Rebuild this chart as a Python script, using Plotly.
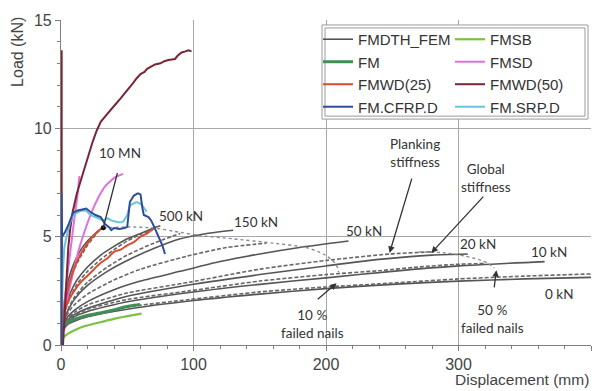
import plotly.graph_objects as go

# ---------------- data ----------------
# FEM, global stiffness (solid grey)
fem_10MN_x = [0, 1, 3, 6, 10, 15, 20, 25, 30, 32]
fem_10MN_y = [0, 1.2, 2.2, 3.1, 3.8, 4.4, 4.8, 5.1, 5.35, 5.42]
fem_500kN_x = [0, 1, 3, 7, 12, 20, 30, 40, 50, 60, 70, 75]
fem_500kN_y = [0, 1.0, 1.7, 2.4, 3.0, 3.6, 4.15, 4.55, 4.9, 5.15, 5.4, 5.5]
fem_150kN_x = [0, 2, 5, 10, 20, 35, 50, 70, 90, 110, 130]
fem_150kN_y = [0, 1.0, 1.55, 2.1, 2.75, 3.4, 3.9, 4.45, 4.9, 5.15, 5.3]
fem_50kN_x = [0, 2, 5, 10, 20, 40, 60, 90, 120, 150, 180, 217]
fem_50kN_y = [0, 0.9, 1.3, 1.6, 2.0, 2.55, 2.95, 3.4, 3.85, 4.2, 4.5, 4.8]
fem_20kN_x = [0, 2, 5, 10, 20, 50, 100, 150, 200, 240, 280, 307]
fem_20kN_y = [0, 0.85, 1.15, 1.4, 1.7, 2.25, 2.8, 3.25, 3.65, 3.95, 4.15, 4.2]
fem_10kN_x = [0, 2, 5, 10, 20, 50, 100, 150, 200, 250, 300, 365]
fem_10kN_y = [0, 0.8, 1.05, 1.3, 1.55, 2.0, 2.45, 2.8, 3.1, 3.4, 3.65, 3.85]
fem_0kN_x = [0, 2, 5, 10, 20, 50, 100, 150, 200, 250, 300, 350, 400]
fem_0kN_y = [0, 0.7, 0.95, 1.1, 1.3, 1.65, 2.05, 2.35, 2.6, 2.8, 2.95, 3.05, 3.12]

# FEM, planking stiffness (dashed grey)
pl_10MN_x = [0, 1, 3, 6, 10, 15, 20, 25, 29, 32]
pl_10MN_y = [0, 1.0, 1.9, 2.8, 3.5, 4.1, 4.6, 5.0, 5.3, 5.4]
pl_500kN_x = [0, 1, 3, 7, 12, 20, 30, 40, 50, 60, 70]
pl_500kN_y = [0, 0.95, 1.55, 2.2, 2.8, 3.4, 3.95, 4.4, 4.8, 5.1, 5.35]
pl_150kN_x = [0, 2, 5, 10, 20, 35, 50, 70, 90]
pl_150kN_y = [0, 1.05, 1.6, 2.2, 2.9, 3.6, 4.15, 4.7, 5.15]
pl_50kN_x = [0, 2, 5, 10, 20, 40, 60, 95, 125, 155]
pl_50kN_y = [0, 0.95, 1.45, 1.85, 2.35, 3.0, 3.5, 4.1, 4.5, 4.7]
pl_20kN_x = [0, 2, 5, 10, 20, 50, 97, 150, 200, 248, 280]
pl_20kN_y = [0, 0.85, 1.2, 1.5, 1.85, 2.4, 2.9, 3.5, 3.9, 4.2, 4.3]
pl_10kN_x = [0, 2, 5, 10, 20, 50, 97, 150, 200, 240, 270, 298, 320]
pl_10kN_y = [0, 0.8, 1.1, 1.35, 1.65, 2.1, 2.5, 2.95, 3.25, 3.43, 3.6, 3.72, 3.76]
pl_0kN_x = [0, 2, 5, 10, 20, 50, 97, 150, 200, 240, 300, 350, 400]
pl_0kN_y = [0, 0.75, 1.0, 1.15, 1.35, 1.75, 2.1, 2.45, 2.68, 2.82, 3.05, 3.18, 3.28]

# failure paths (dotted grey)
fail10_x = [32, 50, 70, 90, 105, 130, 160, 185, 198, 205, 209, 209.5]
fail10_y = [5.4, 5.45, 5.4, 5.2, 5.05, 4.9, 4.7, 4.5, 4.2, 3.9, 3.55, 3.35]
fail50_x = [270, 290, 305, 315, 323, 327]
fail50_y = [4.3, 4.25, 4.1, 3.95, 3.75, 3.55]

# tests
fm_x = [0, 0.5, 3, 8, 14, 20.6, 27, 33, 40, 45.8, 52, 59.6]
fm_y = [0, 0.84, 1.0, 1.14, 1.26, 1.37, 1.45, 1.52, 1.62, 1.72, 1.8, 1.87]
fmsb_x = [0, 0.5, 3, 6, 10.6, 17, 25.6, 33, 40.7, 50, 60.8]
fmsb_y = [0, 0.23, 0.42, 0.55, 0.69, 0.85, 0.99, 1.1, 1.22, 1.33, 1.45]
fmsd_x = [0, 1.5, 4, 7, 10, 12, 13, 13.5, 14, None,
          0, 2, 5, 9, 13, 17, 21, 25, 29, 33, 37, 41, 45, 47]
fmsd_y = [0, 1.2, 2.8, 4.3, 5.8, 6.7, 7.2, 7.6, 7.8, None,
          0.3, 1.2, 2.2, 3.3, 4.3, 5.1, 5.8, 6.4, 6.9, 7.3, 7.55, 7.75, 7.85, 7.9]
fmwd25_x = [0, 2, 5, 9, 14, 19, 24, 28, 31, None,
            0, 1, 3, 6, 10, 15, 20, 25, 30, 35, 40, 45, 50, 55, 60, 65, 69.6]
fmwd25_y = [0.5, 1.5, 2.5, 3.4, 4.1, 4.6, 5.0, 5.25, 5.4, None,
            0.6, 1.0, 1.6, 2.1, 2.5, 2.9, 3.2, 3.5, 3.8, 4.0, 4.3, 4.4, 4.6, 4.75, 5.0, 5.15, 5.35]
fmwd50_x = [0.5, 0.5, None,
            1.5, 3, 4.5, 5.5, 7, 9, 12, 15, 18, 21, 24, 27, 30, 34, 37, 41, 44.5, 48, 51,
            54.5, 57, 60, 63, 65, 68, 71, 75, 78, 81, 84.5, 86, 88, 91, 94, 96, 98.5]
fmwd50_y = [0, 13.6, None,
            0, 1.8, 3.4, 4.5, 5.4, 6.2, 7.0, 7.6, 8.3, 8.9, 9.4, 9.9, 10.3, 10.6, 10.8, 11.1, 11.35, 11.6, 11.85,
            12.1, 12.3, 12.5, 12.6, 12.75, 12.85, 12.95, 13.0, 13.1, 13.15, 13.2, 13.2, 13.35, 13.5, 13.55, 13.6, 13.55]
cfrp_x = [0.4, 0.6, 0.3, 0.6, 0.4, 0.8, 3, 6, 9, 12, 16, 19, 22, 26, 30, 33, 36, 38, 40, 44, 48, 50,
          52, 55, 58, 60, 61.5, 62.5, 66, 68, 70, 72, 74.5, 76.5, 78.5]
cfrp_y = [0, 2, 4, 6, 7.0, 5.0, 5.2, 5.6, 6.1, 6.2, 6.25, 6.3, 6.15, 6.0, 5.9, 5.6, 5.45, 5.3, 5.4, 5.35, 5.4, 5.45,
          6.6, 6.9, 7.0, 6.95, 6.3, 6.0, 5.9, 5.75, 5.5, 5.2, 4.9, 4.6, 4.2]
srp_x = [0, 0.8, 1.5, 2.5, 4, 6, 9, 12, 15, 19, 22, 26, 29.5, 32, 35, 38, 41, 44.5, 47, 50,
         52, 55, 57, 59, 61, 63, 64.6]
srp_y = [0, 2, 3.5, 4.5, 5.0, 5.5, 6.0, 6.1, 6.2, 6.2, 6.0, 5.9, 5.8, 5.75, 5.85, 5.75, 5.7, 5.65, 5.7, 6.0,
         6.45, 6.55, 6.6, 6.55, 6.45, 6.3, 6.15]

marker_x = [31.9]
marker_y = [5.41]

x_ticks = [0, 100, 200, 300, 400]
y_ticks = [0, 5, 10, 15]

# ---------------- figure ----------------
GREY = "#555555"
fig = go.Figure()

solids = [(fem_10MN_x, fem_10MN_y), (fem_500kN_x, fem_500kN_y), (fem_150kN_x, fem_150kN_y),
          (fem_50kN_x, fem_50kN_y), (fem_20kN_x, fem_20kN_y), (fem_10kN_x, fem_10kN_y),
          (fem_0kN_x, fem_0kN_y)]
dashes = [(pl_10MN_x, pl_10MN_y), (pl_500kN_x, pl_500kN_y), (pl_150kN_x, pl_150kN_y),
          (pl_50kN_x, pl_50kN_y), (pl_20kN_x, pl_20kN_y), (pl_10kN_x, pl_10kN_y),
          (pl_0kN_x, pl_0kN_y)]

for i, (xs, ys) in enumerate(solids):
    fig.add_trace(go.Scatter(x=xs, y=ys, mode="lines", name="FMDTH_FEM",
                             line=dict(color=GREY, width=1.6, shape="spline", smoothing=0.6),
                             legend="legend", legendgroup="fem", showlegend=(i == 0)))
for xs, ys in dashes:
    fig.add_trace(go.Scatter(x=xs, y=ys, mode="lines", showlegend=False,
                             line=dict(color="#666666", width=1.6, dash="4px,2px", shape="spline", smoothing=0.6)))
for xs, ys in [(fail10_x, fail10_y), (fail50_x, fail50_y)]:
    fig.add_trace(go.Scatter(x=xs, y=ys, mode="lines", showlegend=False,
                             line=dict(color="#8a8a8a", width=1.4, dash="dot", shape="spline", smoothing=0.6)))

fig.add_trace(go.Scatter(x=fmsb_x, y=fmsb_y, mode="lines", name="FMSB", legend="legend2",
                         line=dict(color="#7cc242", width=2.2, shape="spline")))
fig.add_trace(go.Scatter(x=fm_x, y=fm_y, mode="lines", name="FM", legend="legend",
                         line=dict(color="#3f8f55", width=3, shape="spline")))
fig.add_trace(go.Scatter(x=fmsd_x, y=fmsd_y, mode="lines", name="FMSD", legend="legend2",
                         line=dict(color="#e070dc", width=2, shape="spline")))
fig.add_trace(go.Scatter(x=fmwd25_x, y=fmwd25_y, mode="lines", name="FMWD(25)", legend="legend",
                         line=dict(color="#dc4a30", width=2, shape="spline")))
fig.add_trace(go.Scatter(x=fmwd50_x, y=fmwd50_y, mode="lines", name="FMWD(50)", legend="legend2",
                         line=dict(color="#7a2535", width=2)))
fig.add_trace(go.Scatter(x=srp_x, y=srp_y, mode="lines", name="FM.SRP.D", legend="legend2",
                         line=dict(color="#6cc4dc", width=2)))
fig.add_trace(go.Scatter(x=cfrp_x, y=cfrp_y, mode="lines", name="FM.CFRP.D", legend="legend",
                         line=dict(color="#2c4d9e", width=2)))
fig.add_trace(go.Scatter(x=marker_x, y=marker_y, mode="markers", showlegend=False,
                         marker=dict(color="#111111", size=5)))

ANN_FONT = dict(family="Lato, Open Sans, sans-serif", size=13.5, color="#333333")
labels = [("10 MN", 44.5, 8.84), ("500 kN", 90.5, 5.94), ("150 kN", 147, 5.7),
          ("50 kN", 228.5, 5.26), ("20 kN", 315, 4.65), ("10 kN", 368, 4.27),
          ("0 kN", 376, 2.36), ("Planking<br>stiffness", 267, 8.87),
          ("Global<br>stiffness", 320.5, 7.73), ("50 %<br>failed nails", 325.8, 1.19),
          ("10 %<br>failed nails", 190, 0.96)]
anns = []
for t, x, y in labels:
    anns.append(dict(text=t, x=x, y=y, xref="x", yref="y", showarrow=False,
                     font=ANN_FONT, align="center"))
arrows = [((44.5, 8.4), (31.9, 5.41), 0), ((267, 8.14), (248, 4.25), 2),
          ((321, 7.0), (279.5, 4.25), 2), ((326, 2.2), (328.6, 3.45), 2),
          ((191.5, 2.0), (208, 2.85), 2)]
for (ax, ay), (x, y), head in arrows:
    anns.append(dict(text=" ", x=x, y=y, ax=ax, ay=ay, xref="x", yref="y",
                     axref="x", ayref="y", showarrow=True, arrowhead=head,
                     arrowsize=1, arrowwidth=1.3, arrowcolor="#333333", standoff=0))
anns.append(dict(text="Load (kN)", xref="paper", yref="paper", x=-0.081, y=0.902,
                 textangle=-90, showarrow=False, xanchor="center", yanchor="middle",
                 font=dict(family="Liberation Sans, Arial", size=16, color="#444444")))
anns.append(dict(text="Displacement (mm)", xref="paper", yref="paper", x=1.0, y=-0.1372,
                 showarrow=False, xanchor="right", yanchor="bottom",
                 font=dict(family="Liberation Sans, Arial", size=15.5, color="#444444")))

# legend frame (double line)
W, H = 530.0, 328.0
def px2paper(px, py):
    return (px - 61) / W, (345 - py) / H
x0, y1 = px2paper(322, 22)
x1, y0 = px2paper(588, 117)
ix0, iy1 = px2paper(325, 25)
ix1, iy0 = px2paper(585, 114)
shapes = [
    dict(type="rect", xref="paper", yref="paper", x0=x0, x1=x1, y0=y0, y1=y1,
         fillcolor="white", line=dict(color="#9a9a9a", width=1), layer="above"),
    dict(type="rect", xref="paper", yref="paper", x0=ix0, x1=ix1, y0=iy0, y1=iy1,
         fillcolor="rgba(0,0,0,0)", line=dict(color="#9a9a9a", width=1), layer="above"),
]

lx1, ly = px2paper(318, 20)
lx2, _ = px2paper(450, 20)
LEG_FONT = dict(family="Liberation Sans, Arial", size=15, color="#333333")

axis_common = dict(showline=True, linecolor="#7f7f7f", linewidth=1.2, showgrid=True,
                   gridcolor="#a8a8a8", gridwidth=1, zeroline=False, ticks="outside",
                   ticklen=5, tickcolor="#7f7f7f",
                   tickfont=dict(family="Liberation Sans, Arial", size=16, color="#444444"))
fig.update_layout(
    width=603, height=391,
    margin=dict(l=61, r=12, t=17, b=46),
    paper_bgcolor="white", plot_bgcolor="white",
    xaxis=dict(range=[0, 400], tickvals=x_ticks,
               minor=dict(dtick=20, ticks="outside", ticklen=3, tickcolor="#7f7f7f", showgrid=False),
               **axis_common),
    yaxis=dict(range=[0, 15], tickvals=y_ticks,
               minor=dict(dtick=1, ticks="outside", ticklen=3, tickcolor="#7f7f7f", showgrid=False),
               **axis_common),
    legend=dict(x=lx1, y=ly, xanchor="left", yanchor="top", bgcolor="rgba(0,0,0,0)",
                borderwidth=0, font=LEG_FONT, traceorder="normal"),
    legend2=dict(x=lx2, y=ly, xanchor="left", yanchor="top", bgcolor="rgba(0,0,0,0)",
                 borderwidth=0, font=LEG_FONT, traceorder="normal"),
    annotations=anns,
    shapes=shapes,
)

fig.write_html("out.html")
